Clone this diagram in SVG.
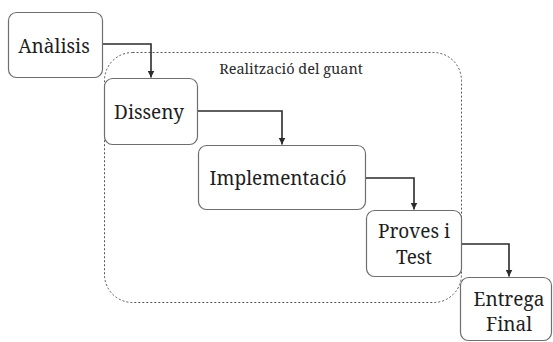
<svg xmlns="http://www.w3.org/2000/svg" width="553" height="342" viewBox="0 0 553 342">
  <style>
    .box { fill: #ffffff; stroke: #6e6e6e; stroke-width: 1.2; }
    .lbl { font-size: 19px; fill: #1e1e1e; text-anchor: middle; }
    .group { fill: none; stroke: #555555; stroke-width: 1; stroke-dasharray: 2 2; }
    .grouplbl { font-size: 14.5px; fill: #2a2a2a; text-anchor: middle; }
    .edge { fill: none; stroke: #2b2b2b; stroke-width: 1.6; }
  </style>
  <defs>
    <marker id="arrow" viewBox="0 0 10 10" refX="10" refY="5" markerWidth="7" markerHeight="7" orient="auto" markerUnits="userSpaceOnUse">
      <path d="M0,0 L10,5 L0,10 z" fill="#2b2b2b"/>
    </marker>
  </defs>
  <rect width="553" height="342" fill="#ffffff"/>

  <g font-family="'Noto Serif', 'DejaVu Serif', serif">
    <!-- dashed container for the design/implementation/test phases -->
    <g id="realitzacio">
      <rect class="group" x="104.5" y="52.5" width="357" height="250" rx="28" ry="28"/>
      <text class="grouplbl" x="291" y="74">Realització del guant</text>
    </g>

    <!-- connectors -->
    <g id="connectors">
      <path class="edge" d="M103,44 H151 V77.5" marker-end="url(#arrow)"/>
      <path class="edge" d="M198,111 H282 V144.5" marker-end="url(#arrow)"/>
      <path class="edge" d="M366,178 H414 V209.5" marker-end="url(#arrow)"/>
      <path class="edge" d="M462,244 H509 V276.5" marker-end="url(#arrow)"/>
    </g>

    <g id="analisis">
      <rect class="box" x="8.5" y="12.5" width="94" height="65" rx="8" ry="8"/>
      <text class="lbl" x="54" y="53">Anàlisis</text>
    </g>
    <g id="disseny">
      <rect class="box" x="104.5" y="78.5" width="93" height="66" rx="8" ry="8"/>
      <text class="lbl" x="149" y="119">Disseny</text>
    </g>
    <g id="implementacio">
      <rect class="box" x="198.5" y="145.5" width="167" height="64" rx="8" ry="8"/>
      <text class="lbl" x="278" y="185">Implementació</text>
    </g>
    <g id="proves">
      <rect class="box" x="366.5" y="210.5" width="95" height="66" rx="8" ry="8"/>
      <text class="lbl" x="414" y="238">Proves i</text>
      <text class="lbl" x="414" y="264">Test</text>
    </g>
    <g id="entrega">
      <rect class="box" x="460.5" y="277.5" width="91" height="63" rx="8" ry="8"/>
      <text class="lbl" x="509" y="306">Entrega</text>
      <text class="lbl" x="509" y="331">Final</text>
    </g>
  </g>
</svg>
